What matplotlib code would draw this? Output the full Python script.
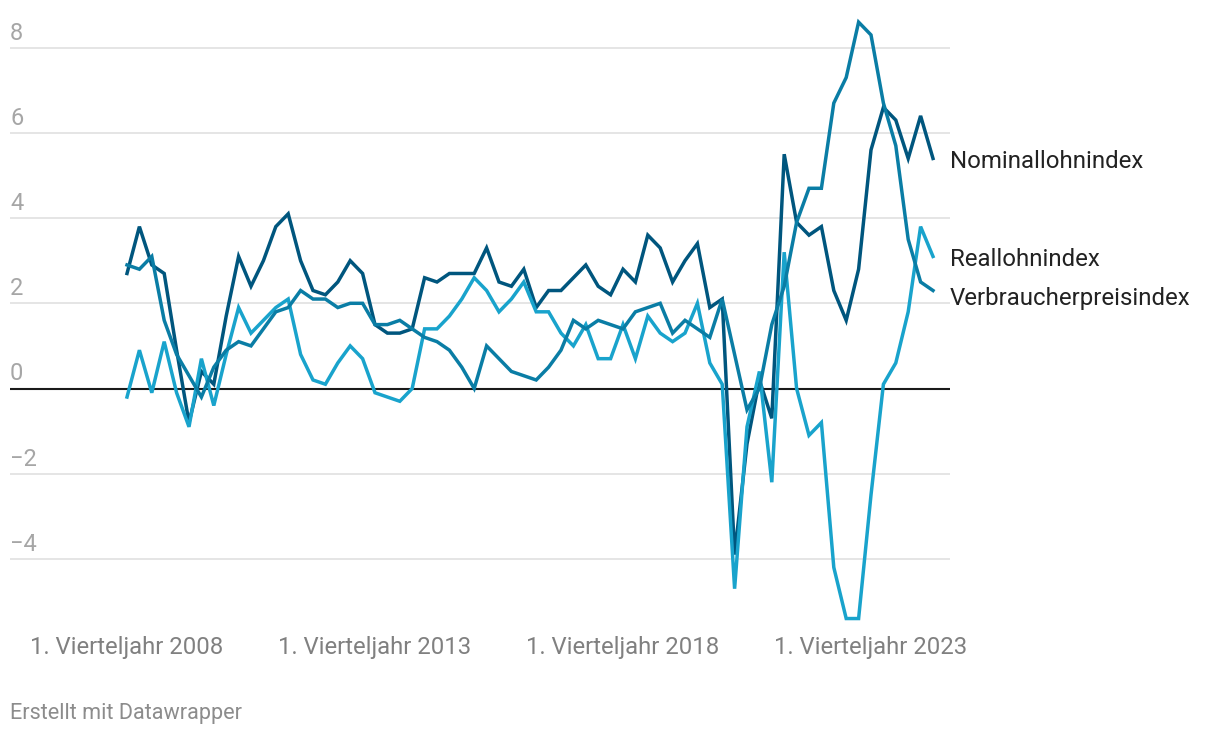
import matplotlib
matplotlib.use("Agg")
import matplotlib.pyplot as plt
import matplotlib.transforms as mtransforms
import numpy as np

plt.rcParams['font.family'] = ['Roboto', 'DejaVu Sans']

# quarterly change vs. previous year quarter, 1. Vj 2008 .. 2. Vj 2024
nominal = [2.7, 3.8, 2.9, 2.7, 0.9, -0.8, 0.4, 0.1, 1.7, 3.1,
           2.4, 3.0, 3.8, 4.1, 3.0, 2.3, 2.2, 2.5, 3.0, 2.7,
           1.5, 1.3, 1.3, 1.4, 2.6, 2.5, 2.7, 2.7, 2.7, 3.3,
           2.5, 2.4, 2.8, 1.9, 2.3, 2.3, 2.6, 2.9, 2.4, 2.2,
           2.8, 2.5, 3.6, 3.3, 2.5, 3.0, 3.4, 1.9, 2.1, -3.9,
           -1.3, 0.2, -0.7, 5.5, 3.9, 3.6, 3.8, 2.3, 1.6, 2.8,
           5.6, 6.6, 6.3, 5.4, 6.4, 5.4]
cpi = [2.9, 2.8, 3.1, 1.6, 0.8, 0.3, -0.2, 0.5, 0.9, 1.1,
       1.0, 1.4, 1.8, 1.9, 2.3, 2.1, 2.1, 1.9, 2.0, 2.0,
       1.5, 1.5, 1.6, 1.4, 1.2, 1.1, 0.9, 0.5, 0.0, 1.0,
       0.7, 0.4, 0.3, 0.2, 0.5, 0.9, 1.6, 1.4, 1.6, 1.5,
       1.4, 1.8, 1.9, 2.0, 1.3, 1.6, 1.4, 1.2, 2.1, 0.8,
       -0.5, 0.0, 1.5, 2.4, 3.9, 4.7, 4.7, 6.7, 7.3, 8.6,
       8.3, 6.7, 5.7, 3.5, 2.5, 2.3]
real = [-0.2, 0.9, -0.1, 1.1, -0.1, -0.9, 0.7, -0.4, 0.8, 1.9,
        1.3, 1.6, 1.9, 2.1, 0.8, 0.2, 0.1, 0.6, 1.0, 0.7,
        -0.1, -0.2, -0.3, 0.0, 1.4, 1.4, 1.7, 2.1, 2.6, 2.3,
        1.8, 2.1, 2.5, 1.8, 1.8, 1.3, 1.0, 1.5, 0.7, 0.7,
        1.5, 0.7, 1.7, 1.3, 1.1, 1.3, 2.0, 0.6, 0.1, -4.7,
        -0.9, 0.4, -2.2, 3.2, 0.0, -1.1, -0.8, -4.2, -5.4, -5.4,
        -2.5, 0.1, 0.6, 1.8, 3.8, 3.1]

series_names = ['Nominallohnindex', 'Reallohnindex', 'Verbraucherpreisindex']
series_colors = ['#00567e', '#19a3cc', '#0a7da5']
label_y = [162, 260, 298]  # pixel rows of the end labels

x_tick_pos = [0, 20, 40, 60]
x_tick_labels = ['1. Vierteljahr 2008', '1. Vierteljahr 2013',
                 '1. Vierteljahr 2018', '1. Vierteljahr 2023']
y_ticks = [-4, -2, 0, 2, 4, 6, 8]

W, H = 1220, 736
fig = plt.figure(figsize=(W / 100, H / 100), dpi=100)
ax = fig.add_axes([10 / W, (H - 630) / H, 940 / W, 620 / H])

x = np.arange(len(nominal))
step = 12.4  # pixels per quarter
ax.set_xlim(-(127 - 10) / step, len(x) - 1 + (950 - 933) / step)
ax.set_ylim((388.5 - 630) / 42.6, (388.5 - 10) / 42.6)

for v in y_ticks:
    if v == 0:
        ax.axhline(0, color='#1a1a1a', lw=1.5, zorder=3)
    else:
        ax.axhline(v, color='#e3e3e3', lw=1.3, zorder=1)
    trans = mtransforms.offset_copy(
        mtransforms.blended_transform_factory(ax.transAxes, ax.transData),
        fig=fig, x=0, y=8, units='dots')
    ax.text(0, v, str(v).replace('-', '\u2212'), transform=trans,
            ha='left', va='baseline', fontsize=17, color='#a6a6a6')

for data, col in zip([nominal, real, cpi], series_colors):
    ax.plot(x, data, color=col, lw=2.5, solid_joinstyle='miter', zorder=4)

for name, col, yy in zip(series_names, series_colors, label_y):
    fig.text(950 / W, 1 - yy / H, name, ha='left', va='center',
             fontsize=17.3, color='#222222')

ax.set_xticks(x_tick_pos)
ax.set_xticklabels(x_tick_labels, fontsize=17.2, color='#808080')
ax.tick_params(axis='x', length=0, pad=4.5)
ax.set_yticks([])
for s in ax.spines.values():
    s.set_visible(False)

fig.text(10 / W, 1 - 714 / H, 'Erstellt mit Datawrapper', ha='left',
         va='center', fontsize=15.6, color='#8c8c8c')

fig.savefig('out.png', dpi=100)
